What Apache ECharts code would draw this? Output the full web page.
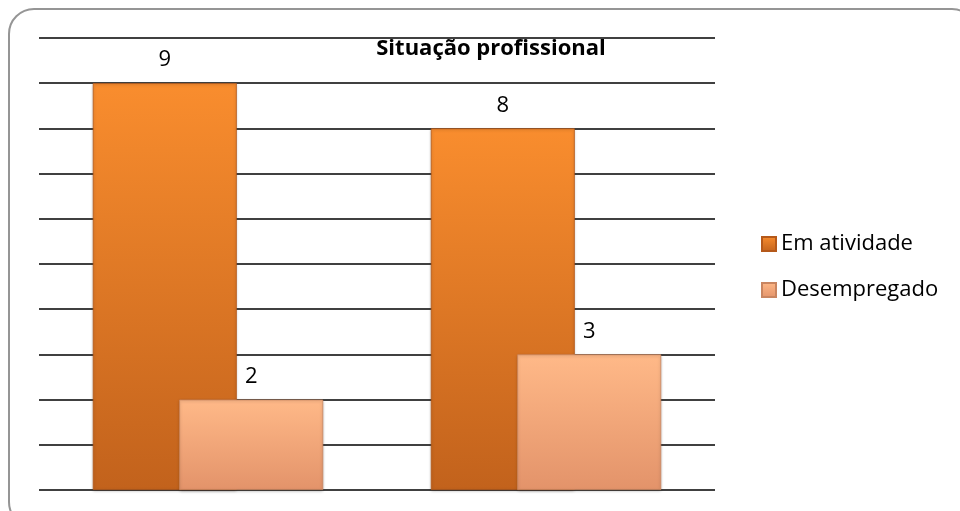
<!DOCTYPE html>
<html>
<head>
<meta charset="utf-8">
<script src="https://cdn.jsdelivr.net/npm/echarts@6/dist/echarts.min.js"></script>
<style>
  html, body { margin: 0; padding: 0; background: #fff; overflow: hidden; }
  #frame {
    position: absolute; left: 8px; top: 8px; width: 970px; height: 520px;
    border: 2px solid #959595; border-radius: 26px; box-sizing: border-box;
  }
  #chart { position: absolute; left: 0; top: 0; width: 960px; height: 511px; }
</style>
</head>
<body>
<div id="frame"></div>
<div id="chart"></div>
<script>
  // dados
  const categories = ['Grupo 1', 'Grupo 2']
  const emAtividade = [9, 8]
  const desempregado = [2, 3]

  const font = '"Open Sans", Lato, sans-serif'

  function grad(top, bottom) {
    return new echarts.graphic.LinearGradient(0, 0, 0, 1, [
      { offset: 0, color: top },
      { offset: 1, color: bottom }
    ])
  }

  let myChart = echarts.init(document.getElementById('chart'))
  myChart.setOption({
    animation: false,
    title: {
      text: 'Situação profissional',
      left: 486, top: 33, textAlign: 'center',
      textStyle: { fontFamily: font, fontSize: 22, fontWeight: 'bold', color: '#000' }
    },
    legend: {
      orient: 'vertical', left: 756, top: 228, itemGap: 24,
      itemWidth: 14, itemHeight: 14, icon: 'rect',
      textStyle: { fontFamily: font, fontSize: 22, color: '#000' },
      data: ['Em atividade', 'Desempregado']
    },
    grid: { left: 39, right: 245, top: 38, bottom: 21, containLabel: false },
    xAxis: {
      type: 'category', data: categories,
      axisLine: { show: false }, axisTick: { show: false }, axisLabel: { show: false }
    },
    yAxis: {
      type: 'value', min: 0, max: 10, interval: 1,
      axisLine: { show: false }, axisTick: { show: false }, axisLabel: { show: false },
      splitLine: { lineStyle: { color: '#000', width: 1.5 } }
    },
    series: [
      {
        name: 'Em atividade', type: 'bar', data: emAtividade,
        barWidth: 144, barGap: '-40%',
        itemStyle: { color: grad('#f98d2e', '#c2621c'), borderColor: '#b5591a', borderWidth: 0.8,
          shadowColor: 'rgba(0,0,0,0.25)', shadowBlur: 3, shadowOffsetY: 1 },
        label: { show: true, position: 'top', distance: 12, fontFamily: font, fontSize: 22, color: '#000' }
      },
      {
        name: 'Desempregado', type: 'bar', data: desempregado,
        barWidth: 144,
        itemStyle: { color: grad('#ffb988', '#e3936a'), borderColor: '#c98560', borderWidth: 0.8,
          shadowColor: 'rgba(0,0,0,0.25)', shadowBlur: 3, shadowOffsetY: 1 },
        label: { show: true, position: 'top', distance: 12, fontFamily: font, fontSize: 22, color: '#000' }
      }
    ]
  })
</script>
</body>
</html>
